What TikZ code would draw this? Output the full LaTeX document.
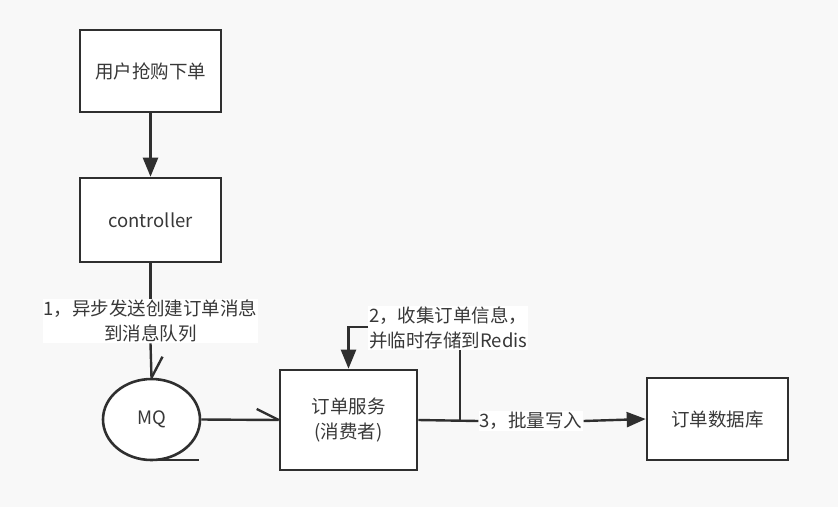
\documentclass[tikz,border=0pt]{standalone}
\usepackage{fontspec}
\setmainfont{Noto Sans CJK SC}
\usetikzlibrary{arrows.meta,shapes.geometric}
\definecolor{bgc}{HTML}{F8F8F8}
\definecolor{linec}{HTML}{2F2F2F}
\definecolor{txtc}{HTML}{383838}
\begin{document}
\begin{tikzpicture}[x=1pt,y=-1pt,
  every node/.style={font=\fontsize{18.5}{25}\selectfont, text=txtc},
  boxn/.style={draw=linec, line width=2.6pt, fill=white, inner sep=0pt},
  lbl/.style={fill=white, inner sep=1pt},
  conn/.style={draw=linec, line width=2.4pt},
  tipf/.style={-{Triangle[length=19pt,width=15pt]}}
]
\fill[bgc] (0,0) rectangle (838,507);
\useasboundingbox (0,0) rectangle (838,507);

\node[boxn, minimum width=141pt, minimum height=82pt] (user) at (150.5,71) {用户抢购下单};
\node[boxn, minimum width=141pt, minimum height=84pt] (ctrl) at (150.5,220) {controller};
\node[draw=linec, line width=2.6pt, fill=white, ellipse, minimum width=97pt, minimum height=81pt, inner sep=0pt] (mq) at (151.5,419.5) {MQ};
\node[boxn, minimum width=137pt, minimum height=100pt, align=center] (svc) at (348.5,420) {订单服务\\(消费者)};
\node[boxn, minimum width=141pt, minimum height=82pt] (db) at (717.5,419) {订单数据库};

\coordinate (mqbot) at (152,460);
\coordinate (mqbotr) at (199,460);
\coordinate (j) at (460,420);

% user -> controller
\draw[conn, tipf] (user.south) -- (ctrl.north);

% controller -> MQ with label
\node[lbl, align=center] (l1) at (150.5,321) {1，异步发送创建订单消息\\到消息队列};
\draw[conn] (ctrl.south) -- (l1.north -| ctrl.south);
\draw[conn] (l1.south -| ctrl.south) -- (mq.north);
\draw[conn] (mq.north) -- ++(11,-21);

% MQ bottom stroke
\draw[conn] (mqbot) -- (mqbotr);

% MQ -> svc
\draw[conn] (mq.east) -- (svc.west);
\draw[conn] (svc.west) -- ++(-22,-11);

% svc -> db with label 3
\node[lbl] (l3) at (531,421) {3，批量写入};
\draw[conn] (svc.east |- j) -- (l3.west);
\draw[conn, tipf] (l3.east) -- (db.west);

% label 2 loop
\node[lbl, align=left, anchor=west] (l2) at (368,328) {2，收集订单信息，\\并临时存储到Redis};
\draw[conn] (j) -- (j |- l2.south);
\draw[conn, tipf] (l2.west |- 0,327) -| (svc.north);
\end{tikzpicture}
\end{document}
